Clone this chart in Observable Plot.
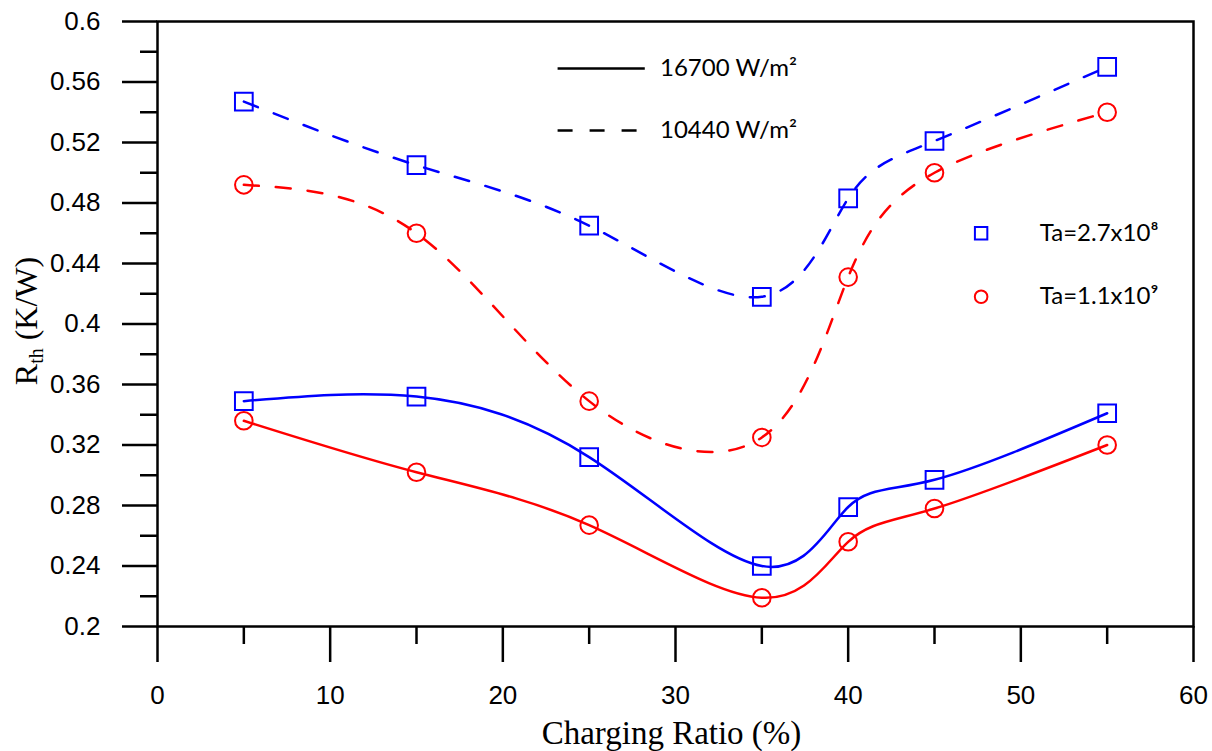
<!DOCTYPE html>
<html><head><meta charset="utf-8">
<script src="https://cdn.jsdelivr.net/npm/d3@7"></script>
<script src="https://cdn.jsdelivr.net/npm/@observablehq/plot@0.6"></script>
<style>body{margin:0;background:#fff} #chart svg{display:block;background:#fff}</style>
</head><body><div id="chart"></div>
<script>
// ---- data ----
const chargingRatio = [5, 15, 25, 35, 40, 45, 55];
const rth16700_Ta27e8 = [0.349, 0.352, 0.312, 0.240, 0.279, 0.297, 0.341];
const rth16700_Ta11e9 = [0.336, 0.302, 0.267, 0.219, 0.256, 0.278, 0.320];
const rth10440_Ta27e8 = [0.547, 0.505, 0.465, 0.418, 0.483, 0.521, 0.570];
const rth10440_Ta11e9 = [0.492, 0.460, 0.349, 0.325, 0.431, 0.500, 0.540];
const fluxNames = ["16700 W/m²", "10440 W/m²"];
const taNames = ["Ta=2.7x10⁸", "Ta=1.1x10⁹"];
const yMajorTicks = [0.2, 0.24, 0.28, 0.32, 0.36, 0.4, 0.44, 0.48, 0.52, 0.56, 0.6];
const yMinorTicks = [0.22, 0.26, 0.30, 0.34, 0.38, 0.42, 0.46, 0.50, 0.54, 0.58];
const xMajorTicks = [0, 10, 20, 30, 40, 50, 60];
const xMinorTicks = [5, 15, 25, 35, 45, 55];

const series = [
  {flux: fluxNames[0], ta: taNames[0], values: rth16700_Ta27e8},
  {flux: fluxNames[0], ta: taNames[1], values: rth16700_Ta11e9},
  {flux: fluxNames[1], ta: taNames[0], values: rth10440_Ta27e8},
  {flux: fluxNames[1], ta: taNames[1], values: rth10440_Ta11e9}
];
const data = series.flatMap(s => chargingRatio.map((x, i) => ({x, y: s.values[i], flux: s.flux, ta: s.ta, key: s.flux + "|" + s.ta})));
const solid = data.filter(d => d.flux === fluxNames[0]);
const dashed = data.filter(d => d.flux === fluxNames[1]);
const squares = data.filter(d => d.ta === taNames[0]);
const circles = data.filter(d => d.ta === taNames[1]);

const BLUE = "#0000ff", RED = "#ff0000";
const DASH = "15,17";
const legendFont = "Lato, 'Open Sans', sans-serif";
const serif = "'Liberation Serif', 'Times New Roman', serif";

const chart = Plot.plot({
  width: 1212, height: 751,
  marginLeft: 157, marginRight: 19, marginTop: 21, marginBottom: 125,
  style: {fontFamily: "'Liberation Sans', Arial, sans-serif", fontSize: "26px", color: "#000", background: "#fff"},
  x: {domain: [0, 60]},
  y: {domain: [0.2, 0.6]},
  color: {domain: taNames, range: [BLUE, RED]},
  marks: [
    Plot.axisY(yMinorTicks, {tickSize: 17, strokeWidth: 2.5, text: null, label: null}),
    Plot.axisY(yMajorTicks, {tickSize: 35, tickPadding: 22, strokeWidth: 2.5, fontSize: 26, label: null, tickFormat: d => String(d)}),
    Plot.axisX(xMinorTicks, {tickSize: 18, strokeWidth: 2.5, text: null, label: null}),
    Plot.axisX(xMajorTicks, {tickSize: 36, tickPadding: 23, strokeWidth: 2.5, fontSize: 26, label: null, tickFormat: d => String(d)}),
    Plot.frame({stroke: "#000", strokeWidth: 2.5}),
    Plot.line(solid, {x: "x", y: "y", z: "key", stroke: "ta", curve: "natural", strokeWidth: 2.5}),
    Plot.line(dashed, {x: "x", y: "y", z: "key", stroke: "ta", curve: "natural", strokeWidth: 2.5, strokeDasharray: DASH}),
    Plot.dot(squares, {x: "x", y: "y", symbol: "square", r: 10, stroke: "ta", fill: "none", strokeWidth: 2}),
    Plot.dot(circles, {x: "x", y: "y", symbol: "circle", r: 8.8, stroke: "ta", fill: "none", strokeWidth: 2}),
    // legend: line styles
    Plot.ruleY([0.569], {x1: 23.2, x2: 28.25, stroke: "#000", strokeWidth: 2.5}),
    Plot.ruleY([0.528], {x1: 23.2, x2: 28.25, stroke: "#000", strokeWidth: 2.5, strokeDasharray: DASH}),
    Plot.text([fluxNames[0]], {x: 29.1, y: 0.569, text: d => d, textAnchor: "start", fontFamily: legendFont, fontSize: 24}),
    Plot.text([fluxNames[1]], {x: 29.1, y: 0.528, text: d => d, textAnchor: "start", fontFamily: legendFont, fontSize: 24}),
    // legend: markers
    Plot.dot([taNames[0]], {x: 47.7, y: 0.46, symbol: "square", r: 7, stroke: BLUE, fill: "none", strokeWidth: 2}),
    Plot.dot([taNames[1]], {x: 47.7, y: 0.418, symbol: "circle", r: 6.3, stroke: RED, fill: "none", strokeWidth: 2}),
    Plot.text([taNames[0]], {x: 51.1, y: 0.46, text: d => d, textAnchor: "start", fontFamily: legendFont, fontSize: 24}),
    Plot.text([taNames[1]], {x: 51.1, y: 0.418, text: d => d, textAnchor: "start", fontFamily: legendFont, fontSize: 24}),
    // x axis title
    Plot.text(["Charging Ratio (%)"], {frameAnchor: "bottom", dy: 107, dx: -4, text: d => d, fontFamily: serif, fontSize: 33, lineAnchor: "middle"})
  ]
});
document.getElementById("chart").appendChild(chart);

// y axis title with subscript
const svg = d3.select(chart);
const yt = svg.append("text")
  .attr("transform", "translate(37,321) rotate(-90)")
  .attr("text-anchor", "middle")
  .style("font-family", serif)
  .style("font-size", "32px")
  .attr("fill", "#000");
yt.append("tspan").style("font-family", serif).text("R");
yt.append("tspan").style("font-family", serif).style("font-size", "20px").attr("dy", 6).text("th");
yt.append("tspan").style("font-family", serif).attr("dy", -6).text(" (K/W)");
</script>
</body></html>
